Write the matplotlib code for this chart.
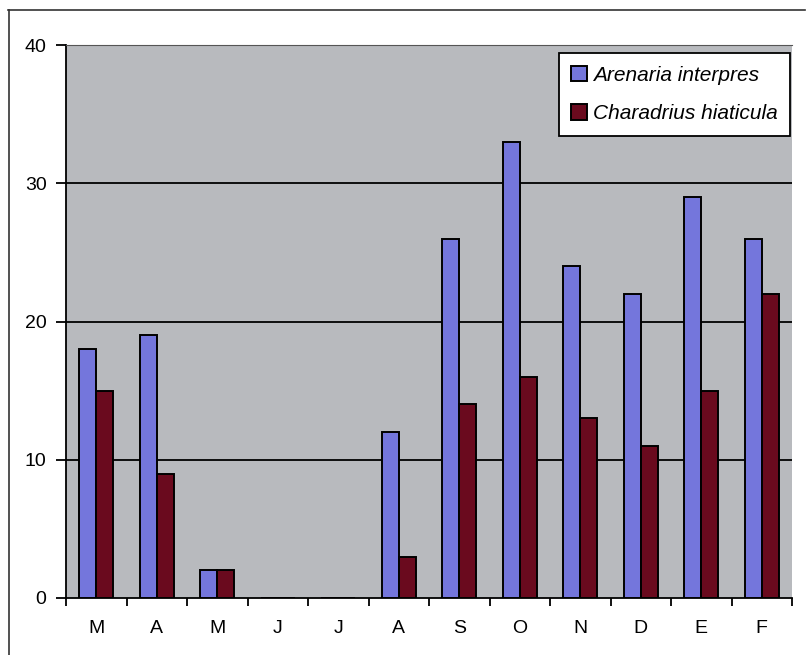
import numpy as np
import matplotlib.pyplot as plt
from matplotlib.lines import Line2D

# Datos
meses = ['M', 'A', 'M', 'J', 'J', 'A', 'S', 'O', 'N', 'D', 'E', 'F']
arenaria = [18, 19, 2, 0, 0, 12, 26, 33, 24, 22, 29, 26]
charadrius = [15, 9, 2, 0, 0, 3, 14, 16, 13, 11, 15, 22]

plt.rcParams['font.family'] = ['Liberation Sans', 'DejaVu Sans']

fig = plt.figure(figsize=(8.11, 6.55), dpi=100)
ax = fig.add_axes([66 / 811, 57 / 655, 726 / 811, 553 / 655])
ax.set_facecolor('#b8babe')

x = np.arange(len(meses))
w = 0.28
ax.bar(x - w / 2, arenaria, w, color='#7476dc', edgecolor='black', linewidth=1.4,
       label='Arenaria interpres', zorder=3)
ax.bar(x + w / 2, charadrius, w, color='#6a0a1e', edgecolor='black', linewidth=1.4,
       label='Charadrius hiaticula', zorder=3)

ax.set_xlim(-0.5, len(meses) - 0.5)
ax.set_ylim(0, 40)
ax.set_yticks([0, 10, 20, 30, 40])
for yv in [10, 20, 30]:
    ax.axhline(yv, color='black', linewidth=1.3, zorder=1)

ax.set_xticks(x)
ax.set_xticklabels(meses)
ax.set_xticks(np.arange(-0.5, len(meses)), minor=True)
ax.tick_params(axis='x', which='major', length=0, pad=16, labelsize=14)
ax.tick_params(axis='x', which='minor', length=6, width=1.3, direction='out')
ax.tick_params(axis='y', length=7, width=1.3, direction='out', pad=7, labelsize=14)

ax.spines['right'].set_visible(False)
ax.spines['top'].set_color('#555555')
ax.spines['top'].set_linewidth(0.8)
ax.spines['left'].set_linewidth(1.3)
ax.spines['bottom'].set_linewidth(1.3)

leg = ax.legend(loc='upper right', bbox_to_anchor=(0.9975, 0.9855),
                prop={'style': 'italic', 'size': 15}, frameon=True, fancybox=False,
                edgecolor='black', framealpha=1, handlelength=0.75, handleheight=0.75,
                handletextpad=0.3, labelspacing=0.95, borderpad=0.6, borderaxespad=0)
leg.get_frame().set_linewidth(1.3)

# Marco exterior
fig.add_artist(Line2D([8 / 811, 805 / 811], [1 - 10 / 655, 1 - 10 / 655], color='#333333', linewidth=1.2))
fig.add_artist(Line2D([9 / 811, 9 / 811], [1 - 10 / 655, 0], color='#333333', linewidth=1.2))

fig.savefig('out.png', dpi=100)
